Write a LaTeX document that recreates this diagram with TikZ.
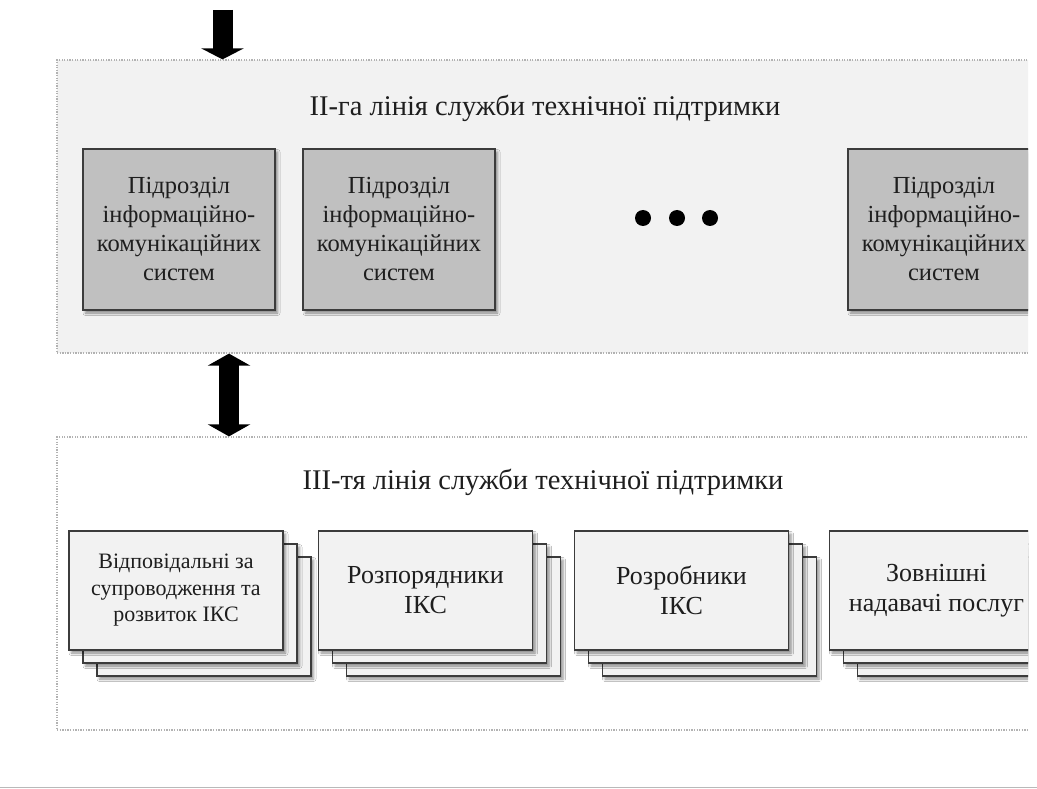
\documentclass[tikz,border=0pt]{standalone}
\usepackage{fontspec}
\setmainfont{Liberation Serif}
\usetikzlibrary{arrows.meta,shadows.blur,calc}

\definecolor{panelfill}{HTML}{F2F2F2}
\definecolor{unitfill}{HTML}{C0C0C0}
\definecolor{sheetfill}{HTML}{F2F2F2}
\definecolor{edge}{HTML}{3C3C3C}
\definecolor{txt}{HTML}{1E1E1E}

\tikzset{
  panel/.style={rectangle, draw=gray!60, line width=1.2pt,
    dash pattern=on 1.3pt off 1.3pt, inner sep=0pt,
    minimum width=1003pt, minimum height=293pt},
  shadowed/.style={blur shadow={shadow xshift=2.5pt, shadow yshift=-3pt,
    shadow blur radius=2.5pt, shadow opacity=45}},
  unitbox/.style={rectangle, draw=edge, line width=1.8pt, fill=unitfill,
    shadowed, minimum width=192pt, minimum height=161pt, inner sep=0pt,
    align=center, text=txt, font=\fontsize{24.5}{29}\selectfont},
  sheet/.style={rectangle, draw=edge, line width=1.8pt, fill=sheetfill,
    shadowed, minimum width=214pt, minimum height=119pt, inner sep=0pt,
    align=center, text=txt},
  sheettext/.style={font=\fontsize{26}{30}\selectfont},
  smalltext/.style={font=\fontsize{22}{26.5}\selectfont},
  title/.style={text=txt, font=\fontsize{28.5}{34}\selectfont},
  bigarrow/.style={draw=black, line width=20pt,
    -{Triangle[width=42pt,length=11pt]}},
  bigdouble/.style={draw=black, line width=20pt,
    {Triangle[width=42pt,length=12pt]}-{Triangle[width=42pt,length=12pt]}},
  dot/.style={circle, fill=black, inner sep=0pt, minimum size=16pt}
}

\begin{document}
\begin{tikzpicture}[x=1pt,y=-1pt]
\useasboundingbox (0,0) rectangle (1037,789);
\fill[white] (0,0) rectangle (1037,789);

\begin{scope}
\clip (0,0) rectangle (1028,789);

% second line of support
\node[panel, fill=panelfill] (p1) at (558.5,206.5) {};
\node[title] (t1) at (545,108) {ІІ-га лінія служби технічної підтримки};

\node[unitbox] (u1) at (179,229.5) {Підрозділ\\інформаційно-\\комунікаційних\\систем};
\node[unitbox] (u2) at (399,229.5) {Підрозділ\\інформаційно-\\комунікаційних\\систем};
\node[unitbox] (u3) at (944,229.5) {Підрозділ\\інформаційно-\\комунікаційних\\систем};

\node[dot] (d1) at (643,218) {};
\node[dot] (d2) at (677,218) {};
\node[dot] (d3) at (710,218) {};

% third line of support
\node[panel, fill=white] (p2) at (558.5,583.5) {};
\node[title] (t2) at (543,482) {ІІІ-тя лінія служби технічної підтримки};

% stacked sheets: back, middle, front
\foreach \n/\cx in {s1/176, s2/425.5, s3/681.5, s4/936.5} {
  \node[sheet] (\n c) at (\cx+28,616.5) {};
  \node[sheet] (\n b) at (\cx+14,603.5) {};
}
\node[sheet, smalltext] (s1) at (176,590.5)
  {Відповідальні за\\супроводження та\\розвиток ІКС};
\node[sheet, sheettext] (s2) at (425.5,590.5) {Розпорядники\\ІКС};
\node[sheet, sheettext] (s3) at (681.5,590.5) {Розробники\\ІКС};
\node[sheet, sheettext] (s4) at (936.5,590.5) {Зовнішні\\надавачі послуг};

% arrows between levels
\coordinate (inflow) at (222.5,10);
\coordinate (link) at (229,0);
\draw[bigarrow] (inflow) -- (inflow |- p1.north);
\draw[bigdouble] (link |- p1.south) -- (link |- p2.north);
\end{scope}

\draw[gray!55, line width=1.5pt] (0,787.5) -- (1037,787.5);
\end{tikzpicture}
\end{document}
